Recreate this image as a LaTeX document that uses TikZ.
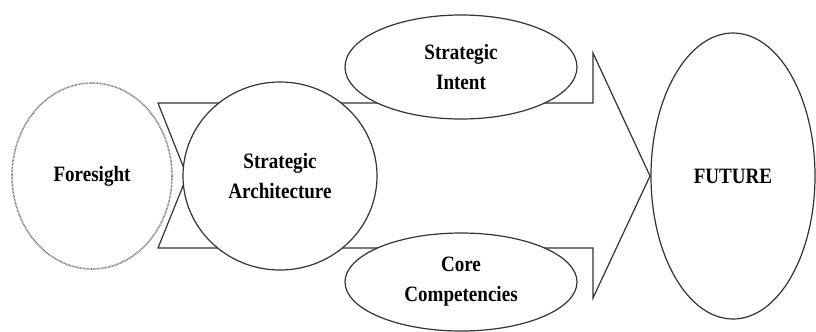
\documentclass[tikz,border=0pt]{standalone}
\usepackage{fontspec}
\setmainfont{Liberation Serif}[FakeStretch=0.87]
\usetikzlibrary{shapes.geometric}
\tikzset{
  lbl/.style={font={\bfseries\fontsize{22}{30}\selectfont}, align=center, text=black},
  oval/.style={ellipse, draw=black!80, line width=1.2bp, fill=white, inner sep=0pt, lbl},
  dotoval/.style={oval, draw=black!55, line width=1.6bp, dash pattern=on 0.7bp off 0.7bp},
  bigarrow/.style={draw=black!80, line width=1.2bp, fill=white, line join=miter},
}
\begin{document}
\begin{tikzpicture}[x=1bp, y=-1bp]
\useasboundingbox (0,0) rectangle (816,331);
% big notched arrow behind the nodes
\coordinate (t1) at (158,103);
\coordinate (t2) at (593,103);
\coordinate (h1) at (593,53);
\coordinate (tip) at (650,176);
\coordinate (h2) at (593,298);
\coordinate (b2) at (593,248);
\coordinate (b1) at (158,248);
\coordinate (notch) at (187,176);
\draw[bigarrow] (t1) -- (t2) -- (h1) -- (tip) -- (h2) -- (b2) -- (b1) -- (notch) -- cycle;
% nodes
\node[dotoval, minimum width=160bp, minimum height=186bp] (fore) at (92,176) {Foresight};
\node[oval, minimum width=194bp, minimum height=188bp] (arch) at (280,176) {Strategic\\Architecture};
\node[oval, minimum width=232bp, minimum height=104bp] (intent) at (461,67) {Strategic\\Intent};
\node[oval, minimum width=232bp, minimum height=98bp] (core) at (461,282) {Core\\Competencies};
\node[oval, minimum width=164bp, minimum height=286bp] (future) at (733,176) {FUTURE};
\end{tikzpicture}
\end{document}
